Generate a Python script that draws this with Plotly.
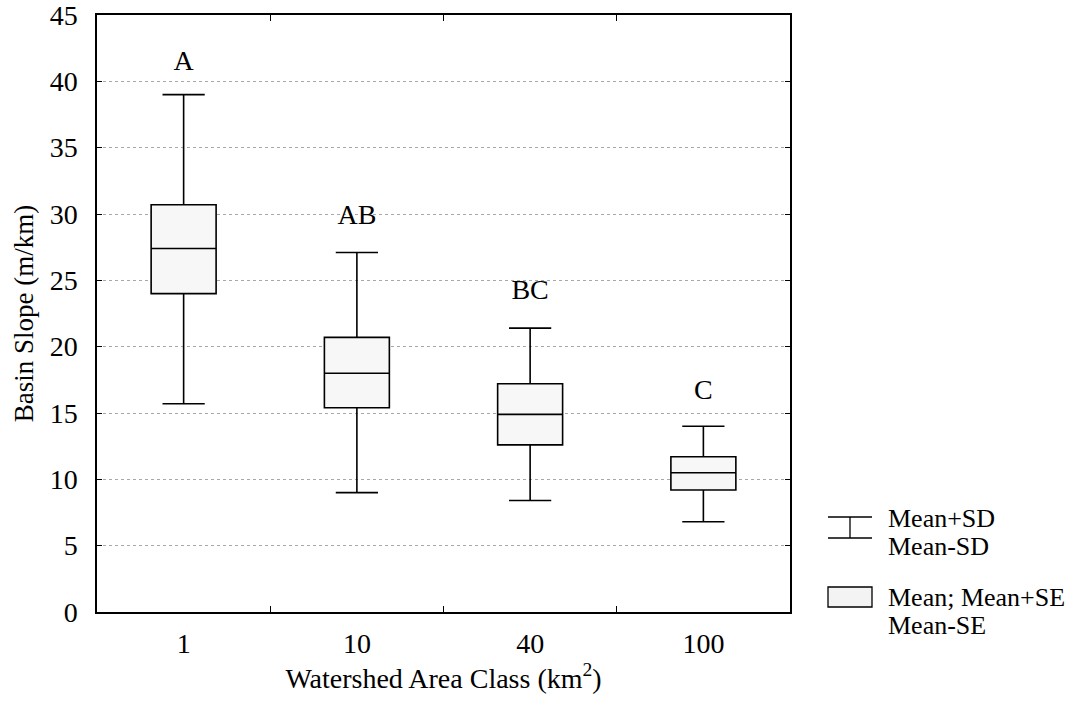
import plotly.graph_objects as go

categories = ["1", "10", "40", "100"]
mean_minus_sd = [15.7, 9.0, 8.4, 6.8]
mean_minus_se = [24.0, 15.4, 12.6, 9.2]
means = [27.4, 18.0, 14.9, 10.5]
mean_plus_se = [30.7, 20.7, 17.2, 11.7]
mean_plus_sd = [39.0, 27.1, 21.4, 14.0]
group_letters = ["A", "AB", "BC", "C"]
letter_y = [41.4, 29.8, 24.1, 16.6]
y_ticks = [0, 5, 10, 15, 20, 25, 30, 35, 40, 45]

FONT = "Liberation Serif, Times New Roman, serif"
W, H = 1085, 708
ML, MR, MT, MB = 97, 295, 15, 96
PW, PH = W - ML - MR, H - MT - MB

fig = go.Figure()
fig.add_trace(go.Box(
    x=categories,
    q1=mean_minus_se,
    median=means,
    q3=mean_plus_se,
    lowerfence=mean_minus_sd,
    upperfence=mean_plus_sd,
    width=0.375,
    whiskerwidth=0.65,
    line=dict(color="black", width=1.6),
    fillcolor="#f7f7f7",
    showlegend=False,
    hoverinfo="skip",
))
fig.add_trace(go.Scatter(
    x=categories,
    y=letter_y,
    mode="text",
    text=group_letters,
    textfont=dict(family=FONT, size=28, color="black"),
    showlegend=False,
    hoverinfo="skip",
))

fig.update_layout(
    width=W, height=H,
    margin=dict(l=ML, r=MR, t=MT, b=MB),
    paper_bgcolor="white", plot_bgcolor="white",
    font=dict(family=FONT, size=28, color="black"),
)
fig.update_xaxes(
    type="category",
    categoryorder="array", categoryarray=categories,
    range=[-0.5, 3.5],
    automargin=False,
    showline=True, linecolor="black", linewidth=1.5, mirror="ticks",
    ticks="inside", tickson="boundaries", ticklen=6, tickcolor="black",
    showgrid=False,
    tickfont=dict(family=FONT, size=28),
    ticklabelstandoff=6,
    title=dict(text="Watershed Area Class (km<sup>2</sup>)", font=dict(family=FONT, size=28), standoff=8),
)
fig.update_yaxes(
    range=[0, 45],
    tickvals=y_ticks,
    automargin=False,
    ticklabeloverflow="allow",
    showline=True, linecolor="black", linewidth=1.5, mirror="ticks",
    ticks="inside", ticklen=5, tickcolor="black",
    showgrid=True, gridcolor="#a8a8a8", griddash="dot", gridwidth=1,
    zeroline=False,
    tickfont=dict(family=FONT, size=28),
    ticklabelstandoff=12,
    title=dict(text="Basin Slope (m/km)", font=dict(family=FONT, size=27), standoff=8),
)

# custom legend, positions in pixels converted to plot-area paper coordinates
def px_x(x):
    return (x - ML) / PW
def px_y(y):
    return (H - MB - y) / PH

legend_shapes = [
    dict(type="line", x0=828, x1=872, y0=517, y1=517),
    dict(type="line", x0=850, x1=850, y0=517, y1=538),
    dict(type="line", x0=828, x1=872, y0=538, y1=538),
    dict(type="rect", x0=828, x1=872, y0=587, y1=607, fillcolor="#f3f3f3"),
]
for s in legend_shapes:
    s.update(xref="paper", yref="paper",
             x0=px_x(s["x0"]), x1=px_x(s["x1"]), y0=px_y(s["y0"]), y1=px_y(s["y1"]),
             line=dict(color="black", width=1.3))
    fig.add_shape(**s)

legend_text = [("Mean+SD", 518), ("Mean-SD", 546), ("Mean; Mean+SE", 597), ("Mean-SE", 625)]
for txt, yy in legend_text:
    fig.add_annotation(text=txt, xref="paper", yref="paper", x=px_x(886), y=px_y(yy),
                       xanchor="left", yanchor="middle", showarrow=False,
                       font=dict(family=FONT, size=26, color="black"))

fig.write_html("out.html", config={"displayModeBar": False},
               post_script="document.body.style.margin='0';")
